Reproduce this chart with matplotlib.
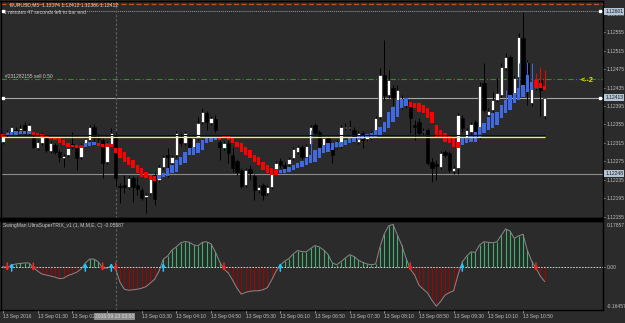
import numpy as np
import matplotlib.pyplot as plt
from matplotlib.patches import Rectangle
import matplotlib.transforms as mtransforms

plt.rcParams['font.family'] = ['Liberation Sans', 'DejaVu Sans']

BG = '#2b2b2b'
TXT = '#bdbdbd'
W, H = 625, 323

# EURUSD M5, 13 Sep 2016 from 00:50; prices in points above 1.10000
opens = [2317, 2332, 2336, 2343, 2343, 2354, 2336, 2328, 2304, 2315,
         2325, 2298, 2310, 2295, 2282, 2289, 2312, 2304, 2284, 2310,
         2321, 2349, 2325, 2321, 2273, 2310, 2330, 2221, 2224, 2219,
         2239, 2224, 2213, 2197, 2206, 2245, 2234, 2263, 2289, 2271,
         2289, 2328, 2315, 2325, 2306, 2325, 2360, 2380, 2358, 2367,
         2317, 2304, 2315, 2289, 2276, 2256, 2224, 2258, 2243, 2213,
         2224, 2206, 2219, 2256, 2276, 2267, 2269, 2282, 2295, 2306,
         2284, 2312, 2354, 2339, 2310, 2325, 2304, 2306, 2308, 2347,
         2347, 2343, 2317, 2336, 2323, 2325, 2332, 2371, 2462, 2419,
         2434, 2408, 2393, 2408, 2393, 2354, 2360, 2339, 2343, 2273,
         2269, 2263, 2295, 2293, 2254, 2260, 2369, 2325, 2339, 2360,
         2328, 2445, 2375, 2386, 2408, 2419, 2477, 2501, 2419, 2458,
         2543, 2488, 2401, 2434, 2451, 2374]
highs = [2336, 2343, 2352, 2349, 2354, 2360, 2358, 2332, 2321, 2339,
         2330, 2319, 2315, 2300, 2291, 2308, 2339, 2308, 2315, 2328,
         2354, 2356, 2334, 2325, 2319, 2347, 2339, 2228, 2245, 2243,
         2243, 2241, 2217, 2206, 2245, 2252, 2267, 2289, 2304, 2289,
         2341, 2336, 2341, 2330, 2330, 2371, 2391, 2384, 2373, 2375,
         2323, 2319, 2321, 2306, 2280, 2260, 2260, 2267, 2247, 2224,
         2228, 2224, 2254, 2276, 2282, 2273, 2284, 2306, 2310, 2310,
         2312, 2354, 2358, 2343, 2330, 2330, 2308, 2321, 2354, 2358,
         2365, 2349, 2341, 2341, 2332, 2341, 2373, 2477, 2538, 2473,
         2441, 2441, 2419, 2412, 2399, 2365, 2369, 2347, 2347, 2282,
         2278, 2298, 2300, 2298, 2265, 2380, 2375, 2347, 2360, 2365,
         2447, 2488, 2391, 2425, 2456, 2488, 2510, 2506, 2460, 2553,
         2599, 2495, 2441, 2462, 2469, 2412]
lows = [2312, 2328, 2334, 2336, 2339, 2332, 2332, 2304, 2300, 2310,
        2295, 2293, 2291, 2273, 2263, 2284, 2302, 2256, 2280, 2306,
        2317, 2315, 2317, 2239, 2269, 2306, 2219, 2185, 2206, 2215,
        2187, 2202, 2191, 2163, 2202, 2180, 2230, 2258, 2241, 2267,
        2284, 2308, 2310, 2302, 2302, 2321, 2356, 2343, 2354, 2339,
        2278, 2300, 2271, 2252, 2245, 2217, 2219, 2234, 2191, 2206,
        2191, 2202, 2215, 2252, 2260, 2252, 2265, 2278, 2291, 2280,
        2280, 2308, 2330, 2302, 2306, 2295, 2271, 2302, 2304, 2343,
        2343, 2317, 2312, 2304, 2319, 2321, 2328, 2367, 2408, 2412,
        2397, 2399, 2388, 2391, 2336, 2321, 2332, 2334, 2267, 2230,
        2234, 2258, 2284, 2252, 2247, 2247, 2339, 2317, 2334, 2323,
        2323, 2382, 2371, 2382, 2404, 2415, 2473, 2415, 2415, 2454,
        2430, 2397, 2395, 2430, 2373, 2366]
closes = [2332, 2339, 2349, 2341, 2347, 2336, 2354, 2306, 2317, 2328,
          2300, 2315, 2295, 2284, 2286, 2304, 2306, 2282, 2310, 2323,
          2349, 2325, 2323, 2271, 2315, 2336, 2239, 2219, 2219, 2239,
          2219, 2215, 2195, 2202, 2241, 2193, 2263, 2284, 2284, 2284,
          2336, 2315, 2336, 2306, 2325, 2358, 2382, 2360, 2369, 2343,
          2306, 2315, 2293, 2260, 2252, 2221, 2256, 2250, 2213, 2219,
          2202, 2219, 2250, 2271, 2267, 2260, 2280, 2302, 2306, 2284,
          2308, 2349, 2336, 2306, 2325, 2306, 2289, 2317, 2349, 2349,
          2349, 2321, 2336, 2321, 2328, 2336, 2369, 2462, 2419, 2451,
          2412, 2430, 2408, 2397, 2369, 2349, 2336, 2341, 2271, 2260,
          2265, 2293, 2289, 2256, 2260, 2375, 2347, 2343, 2356, 2328,
          2438, 2386, 2384, 2408, 2423, 2480, 2501, 2419, 2456, 2545,
          2434, 2434, 2434, 2454, 2430, 2412]

# smoothed heiken ashi overlay (points above 1.10000)
ha_open = [2334, 2330, 2332, 2332, 2334, 2334, 2334, 2339, 2336, 2334,
           2332, 2328, 2328, 2325, 2321, 2315, 2310, 2310, 2308, 2306,
           2308, 2310, 2315, 2312, 2312, 2312, 2304, 2304, 2295, 2284,
           2278, 2267, 2260, 2252, 2245, 2243, 2237, 2241, 2243, 2250,
           2252, 2267, 2271, 2289, 2289, 2293, 2300, 2315, 2317, 2321,
           2328, 2332, 2332, 2325, 2317, 2315, 2306, 2300, 2289, 2284,
           2273, 2267, 2260, 2258, 2250, 2250, 2252, 2256, 2260, 2263,
           2267, 2271, 2273, 2282, 2293, 2295, 2300, 2306, 2306, 2310,
           2315, 2317, 2321, 2323, 2325, 2325, 2328, 2332, 2339, 2347,
           2360, 2371, 2391, 2395, 2404, 2401, 2401, 2397, 2391, 2382,
           2354, 2343, 2336, 2332, 2325, 2317, 2310, 2315, 2317, 2317,
           2328, 2336, 2343, 2347, 2354, 2369, 2380, 2386, 2401, 2408,
           2415, 2425, 2430, 2451, 2445, 2438]
ha_close = [2328, 2336, 2339, 2341, 2341, 2341, 2341, 2332, 2330, 2328,
            2325, 2323, 2321, 2315, 2310, 2306, 2306, 2304, 2304, 2315,
            2317, 2317, 2308, 2306, 2306, 2306, 2293, 2282, 2273, 2267,
            2260, 2250, 2241, 2239, 2234, 2232, 2245, 2250, 2260, 2267,
            2278, 2284, 2295, 2304, 2306, 2315, 2321, 2328, 2328, 2328,
            2321, 2325, 2321, 2315, 2306, 2295, 2289, 2282, 2273, 2267,
            2256, 2250, 2245, 2245, 2256, 2258, 2263, 2267, 2271, 2276,
            2282, 2289, 2300, 2304, 2310, 2315, 2315, 2317, 2317, 2321,
            2325, 2328, 2330, 2332, 2334, 2336, 2343, 2349, 2360, 2382,
            2393, 2408, 2410, 2412, 2393, 2391, 2382, 2380, 2369, 2358,
            2328, 2325, 2317, 2315, 2306, 2304, 2325, 2325, 2332, 2339,
            2349, 2358, 2371, 2380, 2382, 2397, 2408, 2419, 2423, 2434,
            2441, 2462, 2447, 2434, 2434, 2430]
ha_wick_bars = [71, 116, 119, 121, 122, 123, 124, 125]
ha_wick_highs = [2343, 2430, 2488, 2490, 2488, 2467, 2480, 2473]

# SwingMan UltraSuperTRIX histogram
trix = [0.002, -0.002, 0.008, 0.012, 0.014, 0.016, 0.016, -0.002, -0.016, -0.027,
        -0.031, -0.035, -0.039, -0.045, -0.043, -0.033, -0.027, -0.020, -0.008, 0.016,
        0.031, 0.031, 0.020, -0.004, -0.004, 0.004, -0.008, -0.059, -0.086, -0.090,
        -0.088, -0.086, -0.082, -0.076, -0.062, -0.047, -0.016, 0.031, 0.043, 0.066,
        0.078, 0.094, 0.099, 0.096, 0.086, 0.082, 0.096, 0.098, 0.090, 0.059,
        0.020, -0.008, -0.023, -0.051, -0.082, -0.105, -0.098, -0.094, -0.092, -0.092,
        -0.088, -0.080, -0.050, -0.016, 0.008, 0.023, 0.033, 0.051, 0.064, 0.060,
        0.059, 0.072, 0.083, 0.078, 0.066, 0.049, 0.016, 0.009, 0.021, 0.035,
        0.048, 0.041, 0.027, 0.018, 0.012, 0.009, 0.012, 0.078, 0.129, 0.160,
        0.165, 0.125, 0.086, 0.035, -0.008, -0.031, -0.070, -0.086, -0.101, -0.129,
        -0.152, -0.133, -0.109, -0.099, -0.092, -0.031, 0.020, 0.042, 0.059, 0.057,
        0.086, 0.098, 0.096, 0.094, 0.098, 0.123, 0.148, 0.140, 0.111, 0.121,
        0.127, 0.066, 0.023, -0.004, -0.035, -0.05587]
trix_max, trix_min = 0.17857, -0.16457

time_ticks = list(range(0, 121, 8))
# the 02:50 label sits under the crosshair time box
time_labels = ['13 Sep 2016', '13 Sep 01:30', '13 Sep 02:10', '',
               '13 Sep 03:30', '13 Sep 04:10', '13 Sep 04:50', '13 Sep 05:30',
               '13 Sep 06:10', '13 Sep 06:50', '13 Sep 07:30', '13 Sep 08:10',
               '13 Sep 08:50', '13 Sep 09:30', '13 Sep 10:10', '13 Sep 10:50']
cursor_bar = 26
cursor_label = '2016.09.13 03:00'

price_ticks = [1.12595, 1.12555, 1.12515, 1.12475, 1.12435, 1.12395,
               1.12355, 1.12315, 1.12275, 1.12235, 1.12195, 1.12155]
alert_level = 1.12617
stop_level = 1.12601
order_level = 1.12454
bid_level = 1.12413
support_level = 1.12248
trend_level = 1.12329


def box(x0, y0, x1, y1):
    return [x0 / W, 1 - y1 / H, (x1 - x0) / W, (y1 - y0) / H]


def px(x, y):
    return x / W, 1 - y / H


o = 1.1 + np.array(opens) * 1e-5
h = 1.1 + np.array(highs) * 1e-5
l = 1.1 + np.array(lows) * 1e-5
c = 1.1 + np.array(closes) * 1e-5
ho = 1.1 + np.array(ha_open) * 1e-5
hc = 1.1 + np.array(ha_close) * 1e-5
x = np.arange(len(o))

fig = plt.figure(figsize=(W / 100, H / 100), dpi=100, facecolor=BG)
ax = fig.add_axes(box(0.5, 0.5, 603, 218))
ax2 = fig.add_axes(box(0.5, 221, 603, 309.5))
bar_px, first_px = 4.333, 3
xlim = ((0.5 - first_px) / bar_px, (603 - first_px) / bar_px)
for a in (ax, ax2):
    a.set_facecolor(BG)
    a.set_xlim(*xlim)
    for s in a.spines.values():
        s.set_color('black')
        s.set_linewidth(1.0)
fig.patches.append(Rectangle(px(0, 221), 603 / W, 3 / H, transform=fig.transFigure,
                             color='black', zorder=0))

# main price window
ax.set_ylim(1.12625 - 218 * 0.0000217, 1.12625 - 0.5 * 0.0000217)
ax.axhline(alert_level, color='#c4531f', ls=(0, (4, 2)), lw=0.9, zorder=1)
ax.axhline(stop_level, color='#8e9aa6', ls=(0, (1, 1)), lw=0.7, zorder=1)
ax.axhline(order_level, color='#2e8b2e', ls=(0, (5, 2, 1, 2)), lw=0.8, zorder=1)
ax.axhline(bid_level, color='#a8a8a8', lw=0.8, zorder=1)
ax.axhline(support_level, color='#8c8c8c', lw=0.8, zorder=1)
ax.hlines(trend_level + 0.00002, x[0] - 0.2, x[-1] + 0.2, color='#000080', lw=0.8, zorder=6)
ax.hlines(trend_level - 0.00001, x[0] - 0.2, x[-1] + 0.2, color='#ffff00', lw=0.9, zorder=6)
for lvl in (stop_level, bid_level):
    ax.plot([xlim[0] + 0.55, xlim[1] - 0.6], [lvl, lvl], 's', ms=1.8, color='white',
            mec='white', zorder=7, clip_on=False)

up = c >= o
ax.vlines(x, l, h, color='black', lw=0.7, zorder=3)
ax.bar(x, np.maximum(np.abs(c - o), 0.000004), bottom=np.minimum(o, c), width=0.72,
       color=np.where(up, 'white', 'black'), edgecolor='black', lw=0.4, zorder=4)

ha_up = hc >= ho
ha_col = np.where(ha_up, '#4169e1', '#ff0000')
ax.vlines(ha_wick_bars, np.maximum(ho, hc)[ha_wick_bars], 1.1 + np.array(ha_wick_highs) * 1e-5,
          color=ha_col[ha_wick_bars], lw=0.7, zorder=5)
ax.bar(x, np.abs(hc - ho), bottom=np.minimum(ho, hc), width=0.8, color=ha_col, lw=0, zorder=5)

ax.axvline(cursor_bar, color='#5c5c5c', ls=(0, (2, 1.5)), lw=0.9, zorder=2)
ax2.axvline(cursor_bar, color='#5c5c5c', ls=(0, (2, 1.5)), lw=0.9, zorder=2)

ax.set_xticks([])
ax.yaxis.tick_right()
ax.set_yticks(price_ticks)
ax.set_yticklabels([f'{p:.5f}' for p in price_ticks])
ax.tick_params(axis='y', colors=TXT, labelsize=3.6, length=1.5, width=0.5, pad=1.2)

ytrans = mtransforms.blended_transform_factory(ax.transAxes, ax.transData)
for lvl in (stop_level, bid_level, support_level):
    ax.text(1.004, lvl, f'{lvl:.5f}', transform=ytrans, fontsize=3.6, color='#1e1e1e',
            va='center', ha='left', clip_on=False, zorder=10,
            bbox=dict(facecolor='#b2c4d6', edgecolor='none', pad=0.7))

fig.text(*px(10, 4.5), 'EURUSD,M5  1.12374 1.12412 1.12366 1.12412', fontsize=3.6,
         color='#d0d0d0', va='center')
fig.text(*px(4, 13), '1 minutes 47 seconds left to bar end', fontsize=3.6,
         color='#c8c8c8', va='center')
fig.text(*px(5, 76), '#231282155 sell 0.50', fontsize=3.6, color='#c8c8c8', va='center')
fig.text(*px(581, 80.5), '<--2', fontsize=5.2, color='#e8e800', va='center',
         fontweight='bold')

# indicator window
v = np.array(trix)
ax2.set_ylim(trix_min, trix_max)
ax2.vlines(x, 0, v, colors=np.where(v >= 0, '#3cb371', '#a80000'), lw=0.8, zorder=3)
ax2.plot(x, v, color='#8a8a8a', lw=0.7, zorder=4)
ax2.axhline(0, color='#e6e6e6', ls=(0, (2, 1.5)), lw=0.6, zorder=5)
sign = v >= 0
cross_up = np.where(sign[1:] & ~sign[:-1])[0] + 1
cross_dn = np.where(~sign[1:] & sign[:-1])[0] + 1
arrow_h = 0.016
for i in cross_dn:
    ax2.annotate('', xy=(i, -arrow_h), xytext=(i, arrow_h), zorder=6,
                 arrowprops=dict(arrowstyle='-|>', color='#ff2020', lw=1.1,
                                 mutation_scale=4.5, shrinkA=0, shrinkB=0))
for i in cross_up:
    ax2.annotate('', xy=(i, arrow_h), xytext=(i, -arrow_h), zorder=6,
                 arrowprops=dict(arrowstyle='-|>', color='#1ec8ff', lw=1.1,
                                 mutation_scale=4.5, shrinkA=0, shrinkB=0))

ax2.yaxis.tick_right()
ax2.set_yticks([0])
ax2.set_yticklabels(['0.00'])
ax2.tick_params(axis='y', colors=TXT, labelsize=3.6, length=1.5, width=0.5, pad=1.2)
ax2.text(1.006, 0.98, f'{trix_max:.5f}', transform=ax2.transAxes, fontsize=3.6,
         color=TXT, va='top', ha='left')
ax2.text(1.006, 0.01, f'{trix_min:.5f}', transform=ax2.transAxes, fontsize=3.6,
         color=TXT, va='bottom', ha='left')
fig.text(*px(3, 225.5), f'SwingMan UltraSuperTRIX_v1 (1, M,M,E, C) {trix[-1]:.5f}',
         fontsize=3.6, color='#c8c8c8', va='center')

ax2.set_xticks(time_ticks)
ax2.set_xticklabels(time_labels)
ax2.tick_params(axis='x', colors=TXT, labelsize=3.6, length=2, width=0.5, pad=1.5)
for lbl in ax2.get_xticklabels():
    lbl.set_horizontalalignment('left')

fig.text(*px(95, 316.5), cursor_label, fontsize=3.6, color='#e0e0e0', va='center',
         zorder=10, bbox=dict(facecolor='#8a8a8a', edgecolor='none', pad=0.8))

fig.savefig('out.png', dpi=100, facecolor=BG)
